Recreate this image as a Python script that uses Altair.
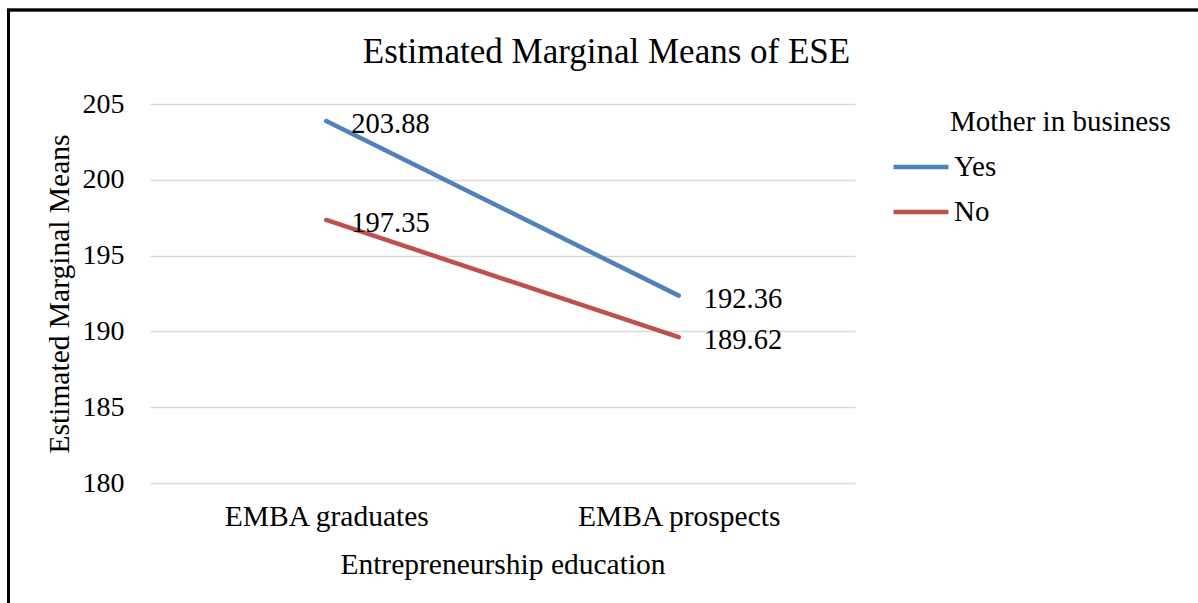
import altair as alt
import pandas as pd

categories = ["EMBA graduates", "EMBA prospects"]
groups = ["Yes", "No"]
yes_values = [203.88, 192.36]
no_values = [197.35, 189.62]
y_ticks = [180, 185, 190, 195, 200, 205]
colors = ["#4F81BD", "#C0504D"]
legend_title = "Mother in business"

rows = []
for c, v in zip(categories, yes_values):
    rows.append({"cat": c, "grp": "Yes", "val": v, "lab": f"{v:.2f}"})
for c, v in zip(categories, no_values):
    rows.append({"cat": c, "grp": "No", "val": v, "lab": f"{v:.2f}"})
df = pd.DataFrame(rows)

FONT = "Liberation Serif"
W, H = 705, 379
PL, PT = 150, 104

x_enc = alt.X("cat:N", sort=categories,
              scale=alt.Scale(type="point", padding=0.5),
              axis=alt.Axis(title="Entrepreneurship education", labelAngle=0,
                            domain=False, ticks=False, grid=False, labelFontSize=29.5,
                            labelPadding=19, titlePadding=20, labelLimit=400))
y_enc = alt.Y("val:Q", scale=alt.Scale(domain=[180, 205], nice=False, zero=False),
              axis=alt.Axis(title="Estimated Marginal Means", values=y_ticks,
                            domain=False, ticks=False, grid=True,
                            labelPadding=26, titlePadding=8))
color_enc = alt.Color("grp:N", sort=groups,
                      scale=alt.Scale(domain=groups, range=colors),
                      legend=alt.Legend(title=None, orient="none",
                                        legendX=741, legendY=33,
                                        symbolType="stroke", symbolSize=3025,
                                        symbolStrokeWidth=4.5, rowPadding=-10,
                                        labelOffset=3))

base = alt.Chart(df)
lines = base.mark_line(strokeWidth=4.5, strokeCap="round").encode(
    x=x_enc, y=y_enc, color=color_enc, detail="grp:N")
labels = base.mark_text(align="left", baseline="middle", dx=25, dy=3,
                        font=FONT, fontSize=28.5, color="black").encode(
    x=alt.X("cat:N", sort=categories), y="val:Q", text="lab:N")

legend_head = alt.Chart(pd.DataFrame({"t": [legend_title]})).mark_text(
    align="left", baseline="middle", font=FONT, fontSize=29, color="black").encode(
    x=alt.value(800), y=alt.value(18), text="t:N")

frame_top = base.mark_rule(color="black", strokeWidth=2.5).encode(
    x=alt.value(-143), x2=alt.value(1060), y=alt.value(-94))
frame_left = base.mark_rule(color="black", strokeWidth=2.5).encode(
    x=alt.value(-141.5), y=alt.value(-95), y2=alt.value(510))

chart = alt.layer(lines, labels, legend_head, frame_top, frame_left).properties(
    width=W, height=H,
    title=alt.TitleParams("Estimated Marginal Means of ESE", font=FONT, fontSize=35,
                          fontWeight="normal", color="black", anchor="middle",
                          baseline="alphabetic", dx=104, dy=90, offset=0, frame="group"),
    autosize=alt.AutoSizeParams(type="none"),
    padding={"left": PL, "top": PT, "right": 1198 - PL - W, "bottom": 603 - PT - H},
    background="white",
).configure_view(stroke=None).configure_axis(
    labelFont=FONT, titleFont=FONT, labelFontSize=28, titleFontSize=29.5,
    labelColor="black", titleColor="black", titleFontWeight="normal",
    gridColor="#D9D9D9", gridWidth=1.5,
).configure_legend(
    labelFont=FONT, titleFont=FONT, labelFontSize=29, titleFontSize=29,
    labelColor="black", titleColor="black", titleFontWeight="normal",
    titleLimit=500, labelLimit=300,
)

chart.save("out.html", embed_options={"renderer": "svg", "actions": False})
